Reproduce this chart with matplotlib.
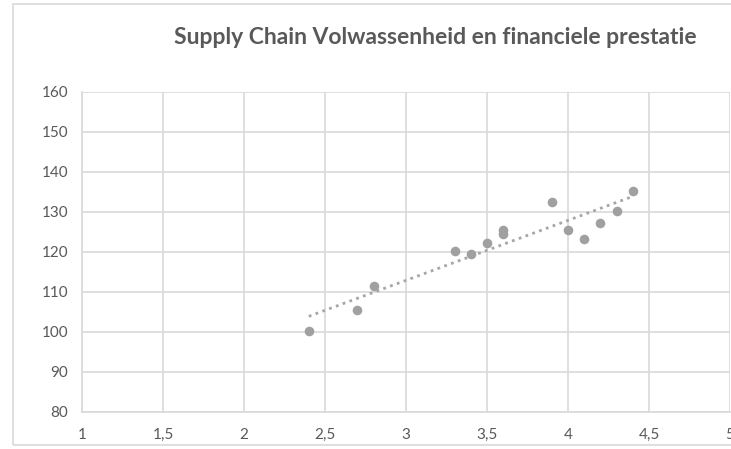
import numpy as np
import matplotlib.pyplot as plt
from matplotlib.patches import Rectangle

# Data
maturity = [2.4, 2.7, 2.8, 3.3, 3.4, 3.5, 3.6, 3.6, 3.9, 4.0, 4.1, 4.2, 4.3, 4.4]
performance = [100.2, 105.4, 111.4, 120.2, 119.5, 122.3, 125.4, 124.4, 132.4, 125.4, 123.3, 127.2, 130.3, 135.3]
x_ticks = [1, 1.5, 2, 2.5, 3, 3.5, 4, 4.5, 5]
y_ticks = [80, 90, 100, 110, 120, 130, 140, 150, 160]
title = "Supply Chain Volwassenheid en financiele prestatie"

plt.rcParams['font.family'] = ['Lato', 'DejaVu Sans']

W, H = 731, 449
fig = plt.figure(figsize=(W / 100, H / 100), dpi=100)

# chart area border
fig.patches.append(Rectangle((13 / W, 4 / H), 1.2, (H - 8) / H, transform=fig.transFigure,
                             fill=False, edgecolor='#d9d9d9', lw=1.2))

left, right, top, bottom = 82, 730, 91.7, 411.7
ax = fig.add_axes([left / W, 1 - bottom / H, (right - left) / W, (bottom - top) / H])

ax.scatter(maturity, performance, s=48, color='#a0a0a0', zorder=3, linewidths=0)

# linear trendline (Excel style)
coef = np.polyfit(maturity, performance, 1)
xs = np.array([min(maturity), max(maturity)])
ax.plot(xs, np.polyval(coef, xs), linestyle=(0, (1, 1.6)), color='#a6a6a6', lw=2, zorder=2)

ax.set_xlim(1, 5)
ax.set_ylim(80, 160)
ax.set_xticks(x_ticks)
ax.set_yticks(y_ticks)
ax.set_xticklabels([f"{t:g}".replace('.', ',') for t in x_ticks])
ax.set_yticklabels([str(t) for t in y_ticks])
ax.tick_params(length=0, labelsize=11, colors='#595959', pad=10)
ax.tick_params(axis='x', pad=12)
ax.grid(True, color='#d9d9d9', lw=1.2)
ax.set_axisbelow(True)
for side in ['top', 'right']:
    ax.spines[side].set_visible(False)
for side in ['left', 'bottom']:
    ax.spines[side].set_color('#d9d9d9')
    ax.spines[side].set_linewidth(1.2)

fig.text(435 / W, 1 - 38 / H, title, ha='center', va='center',
         fontsize=16.5, fontweight='bold', color='#595959')

fig.savefig("out.png", dpi=100)
